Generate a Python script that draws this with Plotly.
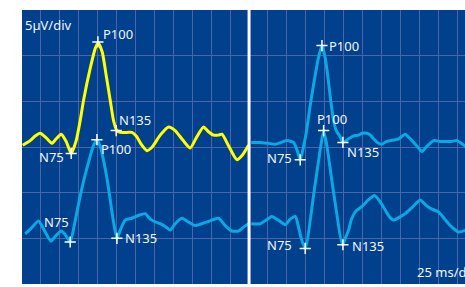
import plotly.graph_objects as go

# ---------------- data (time in ms, amplitude in µV; 25 ms/div, 5 µV/div) ----------------
PANEL_SPLIT = 300  # ms, position of the white separator between the two recordings

# Left panel, yellow trace
yel_t = [1, 10.8, 17.4, 24.0, 32.0, 39.5, 45.2, 51.8, 58.4, 65.0, 71.6, 76.9, 81.3, 90.1, 96.8,
         100.7, 106.0, 111.3, 116.6, 120.9, 125.4, 129.8, 138.6, 145.2, 150.9, 157.5, 165.0, 172.0,
         182.6, 193.6, 202.4, 213.0, 222.3, 230.2, 239.8, 246.0, 253.1, 259.3, 264.2, 272.5, 284.0,
         291.0, 299.3]
yel_v = [15.2, 15.7, 16.2, 16.5, 16.0, 15.4, 15.9, 16.4, 15.6, 14.3, 15.7, 17.9, 20.1, 23.6, 25.8,
         26.4, 25.4, 22.8, 20.1, 17.9, 16.8, 16.6, 16.6, 16.6, 16.2, 15.3, 14.6, 15.0,
         16.3, 17.2, 16.8, 15.7, 14.9, 16.0, 17.2, 16.7, 16.3, 16.3, 16.4, 15.2, 13.6,
         14.1, 15.2]

# Left panel, blue trace
bl_t = [4.2, 12.2, 21.8, 29.3, 38.2, 43.9, 51.8, 57.1, 63.7, 69.0, 74.3, 80.9, 87.5, 94.1, 99.0,
        103.3, 108.6, 112.6, 116.6, 120.5, 125.4, 129.8, 136.4, 145.2, 153.5, 162.8, 169.4, 176.0,
        182.6, 189.2, 195.8, 202.4, 211.3, 219.6, 228.9, 244.3, 259.7, 268.5, 277.4, 286.1, 292.3,
        299.3]
bl_v = [5.5, 6.1, 6.9, 5.9, 4.7, 5.2, 5.8, 5.4, 4.6, 6.4, 8.6, 11.1, 13.2, 15.1, 15.8,
        15.1, 13.2, 11.4, 9.2, 7.0, 5.0, 5.9, 7.0, 7.2, 7.5, 7.7, 7.1, 6.8,
        6.6, 6.3, 5.9, 6.6, 7.2, 6.8, 6.4, 6.8, 7.2, 6.4, 5.8, 5.8, 6.2,
        6.6]

# Right panel, upper blue trace
ru_t = [302.9, 314.8, 325.4, 334.6, 342.5, 350.0, 358.8, 363.7, 367.6, 371.6, 375.6, 380.9, 386.2,
        391.5, 396.3, 400.7, 404.7, 407.9, 411.2, 415.2, 420.5, 424.0, 431.5, 437.7, 444.7, 449.6,
        455.8, 460.2, 464.5, 469.4, 475.6, 481.3, 486.6, 493.2, 497.6, 502.5, 506.4, 510.4, 515.2,
        520.9, 528.4, 534.1, 543.8, 552.6, 559.2, 567.2, 574.7, 580.4, 587.0]
ru_v = [15.5, 15.5, 15.4, 15.3, 15.5, 15.7, 15.5, 14.6, 13.6, 14.9, 16.6, 19.6, 22.3,
        24.7, 26.1, 24.7, 22.3, 20.1, 18.1, 16.8, 16.1, 15.5, 15.9, 16.2, 16.3, 16.5,
        16.5, 16.3, 15.9, 15.5, 15.3, 15.6, 15.7, 15.8, 15.9, 16.2, 16.4, 16.1, 15.7,
        15.2, 14.5, 15.0, 15.7, 15.6, 15.6, 15.6, 15.7, 15.4, 15.0]

# Right panel, lower blue trace
rl_t = [302.9, 314.8, 322.7, 330.0, 338.5, 347.8, 354.4, 361.0, 364.9, 368.9, 374.2, 386.2, 395.5,
        398.5, 402.1, 411.2, 423.5, 427.1, 431.5, 435.0, 440.3, 449.2, 457.5, 465.8, 473.3, 479.9,
        485.2, 490.9, 498.4, 506.4, 515.6, 526.2, 532.8, 539.4, 544.7, 550.4, 556.6, 563.6, 569.8,
        576.8, 587.0]
rl_v = [6.6, 6.6, 7.0, 7.4, 7.0, 6.5, 7.1, 7.4, 6.4, 5.0, 3.9, 10.3, 15.5,
        16.7, 15.5, 10.3, 4.3, 5.0, 5.9, 7.0, 7.9, 8.5, 9.2, 9.7, 9.0, 8.1,
        7.4, 7.0, 7.3, 7.7, 8.4, 9.2, 8.7, 8.3, 8.1, 7.9, 7.3, 6.6, 6.1,
        5.7, 5.9]

# Peak markers (label, time ms, amplitude µV)
peak_labels = ["N75", "P100", "N135",  "N75", "P100", "N135",
               "N75", "P100", "N135",  "N75", "P100", "N135"]
peak_t = [65.0, 100.3, 124.5,  63.7, 99.0, 125.4,
          367.6, 396.3, 424.0,  374.2, 398.5, 424.0]
peak_v = [14.3, 26.5, 16.8,  4.6, 15.8, 5.0,
          13.6, 26.1, 15.5,  3.9, 16.8, 4.3]

# ---------------- styling ----------------
BG = "#00408c"
GRID = "#4c64a8"
YELLOW = "#ffff00"
CYAN = "#0ba8e6"
TXT = "#f4f6fa"
FONT = "Noto Sans"

# label placement (xanchor, xshift, yshift) for each marker label
label_pos = [("right", -5, -4), ("left", 3, 8), ("left", 1, 11),
             ("right", 1, 20), ("left", 2, -9), ("left", 6, 0),
             ("right", -6, 2), ("left", 5, 0), ("left", 2, -10),
             ("right", -11, 3), ("center", 8, 12), ("left", 7, -1)]

fig = go.Figure()
for t, v, c in [(yel_t, yel_v, YELLOW), (bl_t, bl_v, CYAN), (ru_t, ru_v, CYAN), (rl_t, rl_v, CYAN)]:
    fig.add_trace(go.Scatter(x=t, y=v, mode="lines",
                             line=dict(color=c, width=3, shape="spline", smoothing=0.6),
                             hoverinfo="skip", showlegend=False))

fig.add_trace(go.Scatter(x=peak_t, y=peak_v, mode="markers",
                         marker=dict(symbol="cross-thin", size=8,
                                     line=dict(color="white", width=1.5)),
                         hoverinfo="skip", showlegend=False))

annotations = []
for lab, t, v, (xa, xs, ys) in zip(peak_labels, peak_t, peak_v, label_pos):
    annotations.append(dict(x=t, y=v, xref="x", yref="y", text=lab, showarrow=False,
                            xanchor=xa, yanchor="middle", xshift=xs, yshift=ys,
                            font=dict(family=FONT, size=13, color=TXT)))
annotations.append(dict(x=0, y=1, xref="paper", yref="paper", text="5µV/div", showarrow=False,
                        xanchor="left", yanchor="top", xshift=1, yshift=-4,
                        font=dict(family=FONT, size=13, color=TXT)))
annotations.append(dict(x=0.887, y=0, xref="paper", yref="paper", text="25 ms/div", showarrow=False,
                        xanchor="left", yanchor="bottom", xshift=0, yshift=1,
                        font=dict(family=FONT, size=13, color=TXT)))

fig.add_shape(type="line", x0=PANEL_SPLIT, x1=PANEL_SPLIT, y0=0, y1=1, xref="x", yref="paper",
              line=dict(color="white", width=3), layer="above")

fig.update_layout(
    width=465, height=287,
    margin=dict(l=22, r=0, t=10, b=3),
    paper_bgcolor="white", plot_bgcolor=BG,
    annotations=annotations,
    xaxis=dict(range=[0, 585.3], tick0=0, dtick=25, showgrid=True, gridcolor=GRID, gridwidth=1,
               zeroline=False, showticklabels=False, ticks="", showline=False, fixedrange=True),
    yaxis=dict(range=[0, 30], tick0=0, dtick=5, showgrid=True, gridcolor=GRID, gridwidth=1,
               zeroline=False, showticklabels=False, ticks="", showline=False, fixedrange=True),
)

fig.write_html("out.html", config={"displayModeBar": False},
               post_script="document.body.style.margin='0';document.body.style.overflow='hidden';")
